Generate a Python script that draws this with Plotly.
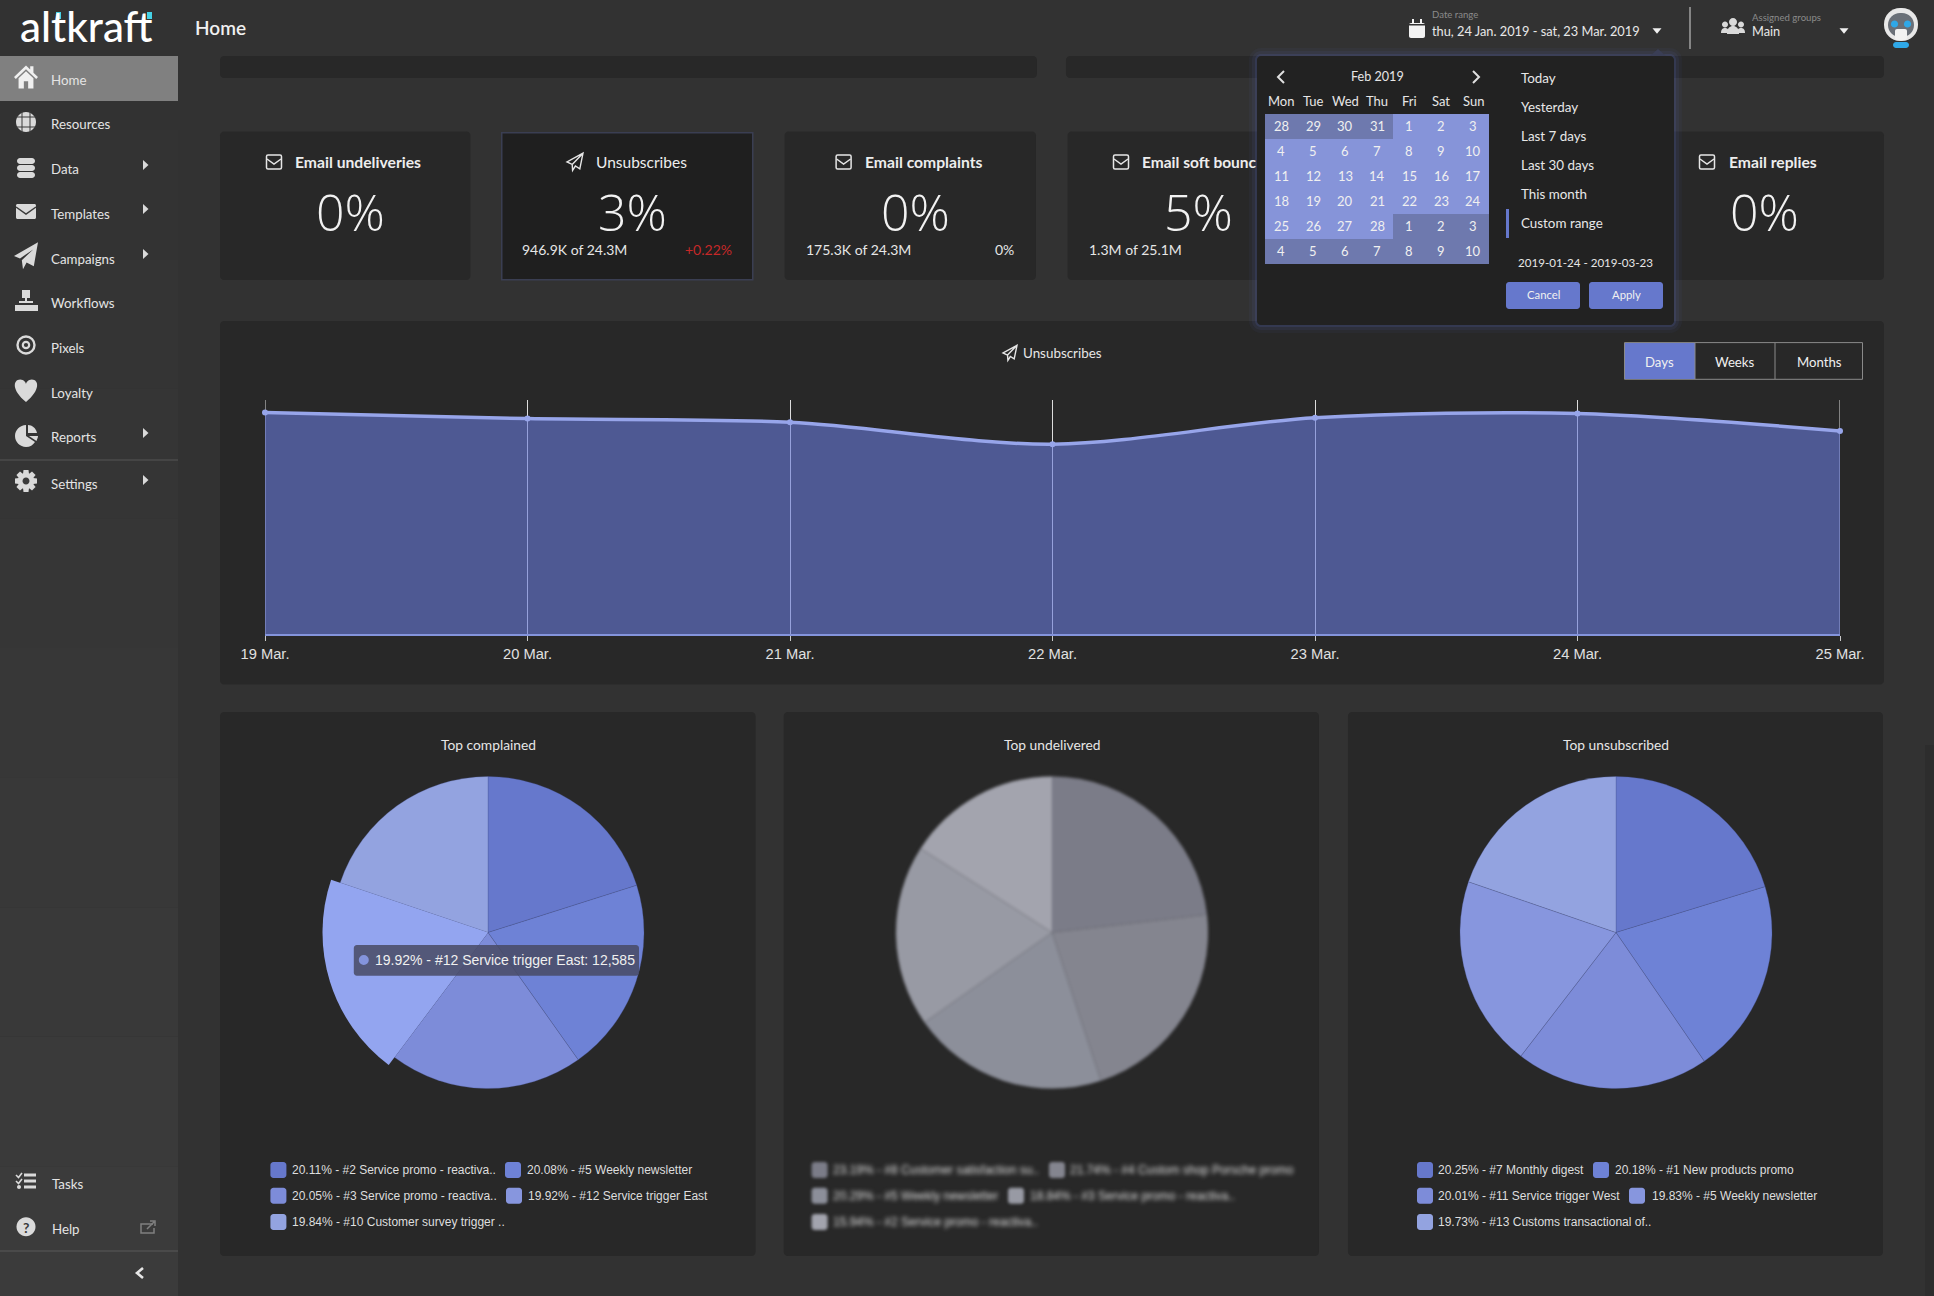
import math
import plotly.graph_objects as go

W, H = 1934, 1296

# ---------- data ----------
days = ["19 Mar.", "20 Mar.", "21 Mar.", "22 Mar.", "23 Mar.", "24 Mar.", "25 Mar."]
unsub_rate = [3.314, 3.222, 3.166, 2.839, 3.234, 3.297, 3.036]
y_top = 3.5

complained_labels = ["#2 Service promo - reactiva..", "#5 Weekly newsletter", "#3 Service promo - reactiva..",
                     "#12 Service trigger East", "#10 Customer survey trigger .."]
complained_values = [20.11, 20.08, 20.05, 19.92, 19.84]
undelivered_labels = ["#8 Customer satisfaction su..", "#4 Custom shop Porsche promo", "#5 Weekly newsletter",
                      "#3 Service promo - reactiva..", "#2 Service promo - reactiva.."]
undelivered_values = [23.19, 21.74, 20.29, 18.84, 15.94]
unsubscribed_labels = ["#7 Monthly digest", "#1 New products promo", "#11 Service trigger West",
                       "#5 Weekly newsletter", "#13 Customs transactional of.."]
unsubscribed_values = [20.25, 20.18, 20.01, 19.83, 19.73]

blue_colors = ["#6678CC", "#6E82D6", "#7D8CD9", "#8796DE", "#93A3E0"]
hover_color = "#93A5F0"
grey_colors = ["#7B7C88", "#84858F", "#8C8F9A", "#989AA4", "#A3A4AE"]

menu_items = ["Home", "Resources", "Data", "Templates", "Campaigns", "Workflows", "Pixels", "Loyalty", "Reports", "Settings"]
menu_y = [80.1, 123.9, 168.9, 214, 259, 302.8, 347.8, 392.9, 437.1, 483.8]
calendar_rows = [["28", "29", "30", "31", "1", "2", "3"], ["4", "5", "6", "7", "8", "9", "10"],
                 ["11", "12", "13", "14", "15", "16", "17"], ["18", "19", "20", "21", "22", "23", "24"],
                 ["25", "26", "27", "28", "1", "2", "3"], ["4", "5", "6", "7", "8", "9", "10"]]
week_days = ["Mon", "Tue", "Wed", "Thu", "Fri", "Sat", "Sun"]
range_items = ["Today", "Yesterday", "Last 7 days", "Last 30 days", "This month", "Custom range"]

UI = "Lato"
CHART = "Liberation Sans"
BG, CARD, LIGHT, ICON = "#323232", "#282828", "#E6E6E6", "#DADADA"
ACCENT = "#6678CC"

shapes, notes = [], []
px = lambda x: x / W
py = lambda y: 1 - y / H


def rect(x0, y0, x1, y1, fill, line=None, lw=1, layer="below"):
    shapes.append(dict(type="rect", xref="paper", yref="paper", x0=px(x0), x1=px(x1), y0=py(y0), y1=py(y1),
                       fillcolor=fill, line=dict(color=line or "rgba(0,0,0,0)", width=lw if line else 0), layer=layer))


def path(d, cx=0, cy=0, s=1, fill=None, line=None, lw=1, layer="below"):
    out, i = [], 0
    for t in d.split():
        if t.isalpha():
            out.append(t)
        else:
            v = float(t)
            out.append(f"{px(cx + s * v):.6f}" if i % 2 == 0 else f"{py(cy + s * v):.6f}")
            i += 1
    shapes.append(dict(type="path", xref="paper", yref="paper", path=" ".join(out),
                       fillcolor=fill or "rgba(0,0,0,0)", line=dict(color=line or "rgba(0,0,0,0)", width=lw if line else 0), layer=layer))


def rrect(x0, y0, x1, y1, r, fill=None, line=None, lw=1, layer="below"):
    k = r * 0.45
    d = (f"M {x0+r} {y0} L {x1-r} {y0} C {x1-k} {y0} {x1} {y0+k} {x1} {y0+r} L {x1} {y1-r} C {x1} {y1-k} {x1-k} {y1} {x1-r} {y1} "
         f"L {x0+r} {y1} C {x0+k} {y1} {x0} {y1-k} {x0} {y1-r} L {x0} {y0+r} C {x0} {y0+k} {x0+k} {y0} {x0+r} {y0} Z")
    path(d, fill=fill, line=line, lw=lw, layer=layer)


def circle(cx, cy, r, fill=None, line=None, lw=1):
    rrect(cx - r, cy - r, cx + r, cy + r, r, fill, line, lw)


def text(x, y, s, size=14, color=LIGHT, anchor="left", family=UI, weight=None, name=None):
    notes.append(dict(xref="paper", yref="paper", x=px(x), y=py(y), text=s, showarrow=False, xanchor=anchor, yanchor="middle",
                      borderpad=0, name=name, font=dict(family=family, size=size, color=color, weight=weight)))


# ---------- page chrome ----------
for i in range(10):
    v = 0x32 + i
    rect(0, H * i / 10, 178, H * (i + 1) / 10, f"rgb({v},{v},{v})")
rect(1925, 745, 1934, 1296, "#2D2D2D")
rect(0, 56, 178, 101, "#808080")
rect(0, 459.5, 178, 460.5, "#565656")
rect(0, 1250.5, 178, 1251.5, "#5A5A5A")

# logo
text(19, 26, "altkraft", 42, "#FFFFFF", weight=500)
rect(56, 12, 61, 19, "#45D2E6")
rect(147, 12, 152, 19, "#45D2E6")

# header
text(194, 27.5, "Home", 19, "#F0F0F0", weight=600)
rrect(1409, 23, 1425, 38, 2, "#F2F2F2")
rect(1412, 19, 1414, 24, "#F2F2F2")
rect(1420, 19, 1422, 24, "#F2F2F2")
rect(1409, 24, 1425, 25.5, BG)
text(1431, 15, "Date range", 9.6, "#8A8A8A")
text(1431, 31, "thu, 24 Jan. 2019 - sat, 23 Mar. 2019", 12.8, "#E8E8E8")
path("M -1 -0.6 L 1 -0.6 L 0 0.6 Z", 1657, 31, 4.5, fill="#F0F0F0")
rect(1689.5, 7, 1690.5, 49, "#D8D8D8")
circle(1733, 22, 4, ICON); circle(1725, 24.5, 3, ICON); circle(1741, 24.5, 3, ICON)
path("M -6 8 C -6 2 -3 0 0 0 C 3 0 6 2 6 8 Z", 1733, 26, 1, fill=ICON)
path("M -4 5 C -4 1 -2 0 0 0 C 2 0 4 1 4 5 Z", 1725, 28, 1, fill=ICON)
path("M -4 5 C -4 1 -2 0 0 0 C 2 0 4 1 4 5 Z", 1741, 28, 1, fill=ICON)
text(1751, 17, "Assigned groups", 9.6, "#8A8A8A")
text(1751, 31, "Main", 12.8, "#E8E8E8")
path("M -1 -0.6 L 1 -0.6 L 0 0.6 Z", 1844, 31, 4.5, fill="#F0F0F0")
# avatar
rrect(1884, 8, 1918, 41, 16, "#E8E8E8")
rrect(1888, 13, 1914, 37, 12, "#6A7078")
circle(1894.5, 24, 3.6, "#2FA8E8"); circle(1907.5, 24, 3.6, "#2FA8E8")
rrect(1895, 29, 1907, 40, 2, "#F2F2F2")
rrect(1893, 42, 1909, 48, 3, "#2FA8E8")

# sidebar menu
for name, y in zip(menu_items, menu_y):
    text(50, y, name, 13.3, "#E4E4E4")
for y in [165, 209, 254, 433, 480]:
    path("M -0.5 -1 L 0.6 0 L -0.5 1 Z", 145.5, y, 5, fill=ICON)
path("M -1 0 L 0 -0.95 L 0.35 -0.62 L 0.35 -0.9 L 0.62 -0.9 L 0.62 -0.36 L 1 0 L 0.85 0.16 L 0 -0.65 L -0.85 0.16 Z", 26, 77, 12, fill="#F0F0F0")
path("M -0.62 0.1 L 0 -0.47 L 0.62 0.1 L 0.62 0.95 L 0.18 0.95 L 0.18 0.35 L -0.18 0.35 L -0.18 0.95 L -0.62 0.95 Z", 26, 77, 12, fill="#F0F0F0")
circle(26, 122, 10, ICON)
rect(15.5, 116.5, 36.5, 117.5, "#3A3A3A"); rect(15.5, 126.5, 36.5, 127.5, "#3A3A3A"); rect(21.5, 111, 22.5, 133, "#3A3A3A"); rect(29.5, 111, 30.5, 133, "#3A3A3A")
for k, yy in enumerate([158, 165, 172]):
    rrect(17, yy, 35, yy + 6, 3, ICON)
rrect(16, 204, 36, 219, 1.5, ICON)
path("M 16 207 L 26 214 L 36 207", line="#3A3A3A", lw=1.5)
path("M 1 -1.15 L 0.65 0.85 L 0.05 0.55 L -0.25 1.1 L -0.35 0.35 L 0.6 -0.55 L -0.5 0.2 L -1 0 Z", 26, 256, 12, fill=ICON)
rect(22, 290, 30, 298, ICON); rect(25, 298, 27, 303, ICON); rect(19, 301, 33, 303, ICON)
for xx in (15, 22, 30):
    rect(xx, 305, xx + 8, 311, ICON)
circle(26, 345, 8.5, None, ICON, 2.4); circle(26, 345, 3.2, None, ICON, 2.2)
path("M 0 1 C -1.25 0 -1.15 -0.95 -0.5 -0.95 C -0.2 -0.95 0 -0.7 0 -0.55 C 0 -0.7 0.2 -0.95 0.5 -0.95 C 1.15 -0.95 1.25 0 0 1 Z", 26, 390.5, 11.5, fill=ICON)
path("M 26 425 C 20 425 15 430 15 436 C 15 442 20 447 26 447 C 30 447 33 445 35 442 L 26 436 Z", fill=ICON)
path("M 28 425 C 32 425 36 428 37 433 L 28 433 Z", fill=ICON)
path("M 29 436 L 38 436 C 38 438 37 439 36.5 441 Z", fill=ICON)
for k in range(8):
    a = k * math.pi / 4
    ca, sa = math.cos(a), math.sin(a)
    path(f"M {-3*sa+7*ca} {3*ca+7*sa} L {-2.5*sa+11*ca} {2.5*ca+11*sa} L {2.5*sa+11*ca} {-2.5*ca+11*sa} L {3*sa+7*ca} {-3*ca+7*sa} Z", 26, 481, 1, fill=ICON)
circle(26, 481, 8, ICON); circle(26, 481, 3.5, "#3A3A3A")
# tasks / help
text(50.5, 1184, "Tasks", 13.3, "#E4E4E4")
text(50.5, 1229, "Help", 13.3, "#E4E4E4")
for yy in (1175, 1181, 1187):
    rect(24, yy - 1.5, 36, yy + 1.5, ICON)
circle(19, 1187, 2, ICON)
path("M 16 1175 L 18.5 1177.5 L 22 1173", line=ICON, lw=1.6)
path("M 16 1181 L 18.5 1183.5 L 22 1179", line=ICON, lw=1.6)
circle(26, 1226.7, 9.5, ICON)
text(26, 1227, "?", 14, "#3A3A3A", "center", weight=700)
path("M 153 1224 L 141 1224 L 141 1233 L 154 1233 L 154 1228", line="#808080", lw=1.5)
path("M 147 1229 L 154 1222 M 150 1221 L 155 1221 L 155 1226", line="#808080", lw=1.5)
path("M 143 1268 L 137 1273 L 143 1278", line="#E6E6E6", lw=2.6)

# top strip cards
rrect(220, 56, 1037, 78, 4, CARD)
rrect(1066, 56, 1884, 78, 4, CARD)
rect(178, 52, 1934, 56, BG)

# KPI cards
kpi_boxes = [(220, 470.5), (784.5, 1036), (1067.5, 1318), (1350, 1601), (1633, 1884)]
for x0, x1 in kpi_boxes:
    rrect(x0, 131.5, x1, 280, 4, CARD)
rect(501, 132, 753.5, 280.5, "#3A3E52")
rect(502.5, 133.5, 752, 279, "#1F1F1F")


def mail(cx, cy):
    rrect(cx - 7.5, cy - 7, cx + 7.5, cy + 7, 1.5, None, "#E6E6E6", 1.5)
    path(f"M {cx-7} {cy-3} L {cx} {cy+2} L {cx+7} {cy-3}", line="#E6E6E6", lw=1.5)


def plane(cx, cy, s=8):
    path("M 1 -1.1 L 0.6 0.85 L 0.05 0.5 L -0.3 1.05 L -0.35 0.3 L -1 0 Z M 1 -1.1 L -0.35 0.3", cx, cy, s, None, "#E6E6E6", 1.4)


mail(274, 162); text(293.5, 162.5, "Email undeliveries", 15.7, "#EDEDED", weight=700)
plane(575, 162); text(594.5, 162.5, "Unsubscribes", 15.5, "#EDEDED")
mail(843.6, 162); text(864, 162.5, "Email complaints", 15.7, "#EDEDED", weight=700)
mail(1121, 162); text(1141, 162.5, "Email soft bounc", 15.5, "#EDEDED", weight=700)
mail(1707, 162); text(1727.5, 162.5, "Email replies", 15.7, "#EDEDED", weight=700)
for x, v in zip([350, 632.8, 915.8, 1198, 1764], ["0%", "3%", "0%", "5%", "0%"]):
    text(x, 212, v, 50, "#F2F2F2", "center", family="Open Sans", weight=300)
text(521, 250, "946.9K of 24.3M", 14, "#E6E6E6")
text(732.6, 250, "+0.22%", 14, "#C62828", "right")
text(804.6, 250, "175.3K of 24.3M", 14, "#E6E6E6")
text(1015, 250, "0%", 14, "#E6E6E6", "right")
text(1087.5, 250, "1.3M of 25.1M", 14, "#E6E6E6")

# line chart card
rrect(220, 321, 1884, 684.5, 4, CARD)
plane(1010, 353, 7)
text(1021.5, 353, "Unsubscribes", 13.4, "#E6E6E6")
rect(1624.5, 342.6, 1862.5, 379.3, CARD, "#8A8A8A", 1)
rect(1625, 343, 1695, 379, ACCENT)
rect(1694.5, 343, 1695.5, 379, "#8A8A8A")
rect(1774.5, 343, 1775.5, 379, "#8A8A8A")
for x, s in zip([1659.6, 1735, 1819], ["Days", "Weeks", "Months"]):
    text(x, 361.6, s, 13.2, "#F0F0F0", "center")

# date popup
for g, a in [(8, .06), (5, .09), (2, .16)]:
    rrect(1257 - g, 56 - g, 1674 + g, 325 + g, 4 + g, f"rgba(90,105,190,{a})")
rrect(1257, 56, 1674, 325, 4, "#222222")
path("M 1650 56 L 1658 49 L 1666 56 Z", fill="#3A3E55")
path("M 1284 71 L 1278 77 L 1284 83", line="#E0E0E0", lw=2)
path("M 1473 71 L 1479 77 L 1473 83", line="#E0E0E0", lw=2)
text(1377, 76.5, "Feb 2019", 12.6, "#E6E6E6", "center")
col_x = [1281, 1313, 1345, 1377, 1409, 1441, 1473]
row_y = [126.4, 151.3, 176.1, 201.2, 226.1, 251.1]
rect(1265, 114, 1489, 264, "#6E79AE")
rect(1393, 114, 1489, 139, "#8694D9")
rect(1265, 139, 1489, 214, "#8694D9")
rect(1265, 214, 1393, 239, "#8694D9")
for x, d in zip(col_x, week_days):
    text(x, 101.1, d, 13, "#E6E6E6", "center")
for y, row in zip(row_y, calendar_rows):
    for x, d in zip(col_x, row):
        text(x, y, d, 13, "#F0F0F0", "center")
for y, r in zip([78, 107.4, 136.3, 165.2, 194.1, 223.1], range_items):
    text(1520, y, r, 13.4, "#E8E8E8")
rect(1506, 209, 1509, 238, ACCENT)
text(1585.6, 262.4, "2019-01-24 - 2019-03-23", 11.6, "#E6E6E6", "center")
rrect(1506, 282, 1580, 309, 3, ACCENT)
rrect(1589, 282, 1663, 309, 3, ACCENT)
text(1543, 295, "Cancel", 11.3, "#F0F0F0", "center")
text(1626, 295, "Apply", 11.3, "#F0F0F0", "center")

# pie cards
pie_centres = [488, 1052, 1616]
PIE_Y, PIE_R = 932.5, 156
for (x0, x1), t, c in zip([(220, 755.6), (783.7, 1319), (1348, 1883)], ["Top complained", "Top undelivered", "Top unsubscribed"], pie_centres):
    rrect(x0, 712, x1, 1256, 4, CARD)
    text(c, 744, t, 13.8, "#E6E6E6", "center")

# legends
legend_y = [1170, 1195.8, 1222]
blur_idx, blur_shapes = [], []


def legend(vals, labels, colors, pos, blurred=False):
    for v, lab, col, (sx, tx, row) in zip(vals, labels, colors, pos):
        y = legend_y[row]
        if blurred:
            blur_shapes.append(len(shapes))
        rrect(sx, y - 8, sx + 16, y + 8, 3, col)
        if blurred:
            blur_idx.append(len(notes))
        text(tx, y, f"{v:.2f}% - {lab}", 12, "#DEDEDE", family=CHART)


legend(complained_values, complained_labels, blue_colors,
       [(270.4, 291, 0), (505, 526, 0), (270.4, 291, 1), (506, 527, 1), (270.4, 291, 2)])
legend(undelivered_values, undelivered_labels, grey_colors,
       [(811.6, 831.5, 0), (1049, 1069, 0), (811.6, 831.5, 1), (1008, 1028.7, 1), (811.6, 831.5, 2)], True)
legend(unsubscribed_values, unsubscribed_labels, blue_colors,
       [(1417, 1437, 0), (1593, 1613.7, 0), (1417, 1437, 1), (1629, 1650.5, 1), (1417, 1437, 2)])

# tooltip
rrect(353.8, 945, 639, 975.7, 3, "rgba(72,74,100,0.85)", layer="above")
shapes.append(dict(type="circle", xref="paper", yref="paper", x0=px(358.8), x1=px(368.8), y0=py(955), y1=py(965),
                   fillcolor="#8494DC", line=dict(width=0), layer="above"))
text(374, 960, f"{complained_values[3]:.2f}% - {complained_labels[3]}: 12,585", 14, "#F0F0F0", family=CHART)


# ---------- charts ----------
def pie(vals, colors, cx, r, border):
    return go.Pie(values=vals, sort=False, direction="clockwise", rotation=0, textinfo="none", hoverinfo="skip",
                  showlegend=False, marker=dict(colors=colors, line=dict(color=border, width=0.5)),
                  domain=dict(x=[(cx - r) / W, (cx + r) / W], y=[1 - (PIE_Y + r) / H, 1 - (PIE_Y - r) / H]))


clear = "rgba(0,0,0,0)"
seam = "rgba(70,80,140,0.55)"
fig = go.Figure()
# the axis does not draw a gridline on its two end categories, so these two come from a line trace
fig.add_trace(go.Scatter(x=[days[0], days[0], None, days[-1], days[-1]], y=[0, y_top, None, 0, y_top], mode="lines",
                         line=dict(color="#DCDCDC", width=1), cliponaxis=False, hoverinfo="skip", showlegend=False))
fig.add_trace(go.Scatter(x=days, y=unsub_rate, mode="lines+markers", fill="tozeroy", fillcolor="rgba(104,122,218,0.6)",
                         line=dict(color="#97A5EA", width=3.5, shape="spline", smoothing=0.9),
                         marker=dict(color="#97A5EA", size=6), cliponaxis=False, hoverinfo="skip", showlegend=False))
fig.add_trace(pie(complained_values, blue_colors, pie_centres[0], PIE_R, seam))
fig.add_trace(pie(complained_values, [clear, clear, clear, hover_color, clear], pie_centres[0], 165.5, clear))
fig.add_trace(pie(undelivered_values, grey_colors, pie_centres[1], PIE_R, "rgba(110,110,120,0.5)"))
fig.add_trace(pie(unsubscribed_values, blue_colors, pie_centres[2], PIE_R, seam))

fig.update_layout(width=W, height=H, margin=dict(l=0, r=0, t=0, b=0), autosize=False, paper_bgcolor=BG, plot_bgcolor="rgba(0,0,0,0)",
                  shapes=shapes, annotations=notes, hovermode=False,
                  xaxis=dict(type="category", categoryorder="array", categoryarray=days, range=[0, 6], domain=[265 / W, 1840 / W],
                             automargin=False, showgrid=True, gridcolor="#DCDCDC", gridwidth=1, showline=True, linecolor="#8494DC", linewidth=2,
                             ticks="outside", ticklen=5, tickcolor="#C8C8C8", tickfont=dict(family=CHART, size=14.7, color="#E0E0E0"), zeroline=False),
                  yaxis=dict(range=[0, y_top], domain=[1 - 634 / H, 1 - 400 / H], automargin=False, visible=False, showgrid=False, zeroline=False))

post = """
document.documentElement.style.margin='0';document.body.style.margin='0';document.body.style.overflow='hidden';
(function(){
 var blurA=%s, blurS=%s;
 function run(){
  var t=document.querySelectorAll('.pielayer .trace'); if(t[2]){t[2].style.filter='blur(1.8px)';}
  var a=document.querySelectorAll('.annotation');
  blurA.forEach(function(i){ if(a[i]) a[i].style.filter='blur(2.2px)'; });
  var s=document.querySelectorAll('.shapelayer path');
  s.forEach(function(p){ if(blurS.indexOf(+p.getAttribute('data-index'))>=0) p.style.filter='blur(1.8px)'; });
 }
 run(); setTimeout(run,100); setTimeout(run,500);
})();
""" % (blur_idx, blur_shapes)
fig.write_html("out.html", config=dict(displayModeBar=False), post_script=post)
